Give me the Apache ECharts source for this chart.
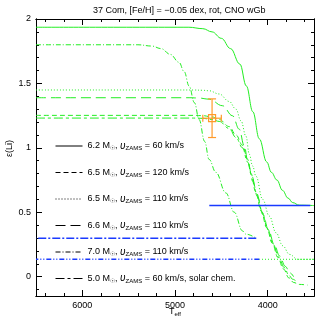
<!DOCTYPE html>
<html><head><meta charset="utf-8">
<script src="https://cdn.jsdelivr.net/npm/echarts@6/dist/echarts.min.js"></script>
<style>html,body{margin:0;padding:0;background:#fff}#c{width:332px;height:332px}</style>
</head><body><div id="c"></div>
<script>
const titleText = '37 Com, [Fe/H] = \u22120.05 dex, rot, CNO wGb';
const xMajorTicks = [4000, 5000, 6000];
const xMinorTicks = [3600, 3800, 4000, 4200, 4400, 4600, 4800, 5000, 5200, 5400, 5600, 5800, 6000, 6200, 6400];
const yMajorTicks = [0, 0.5, 1, 1.5, 2];
const yMinorTicks = [-0.1, 0, 0.1, 0.2, 0.3, 0.4, 0.5, 0.6, 0.7, 0.8, 0.9, 1, 1.1, 1.2, 1.3, 1.4, 1.5, 1.6, 1.7, 1.8, 1.9, 2];

// model legend info
const modelMass = ['6.2', '6.5', '6.5', '6.6', '7.0', '5.0'];
const modelVzams = [60, 120, 110, 110, 110, 60];
const modelNote = ['', '', '', '', '', ', solar chem.'];

// tracks (Teff, eps(Li))
const teff62 = [6500, 4850, 4700, 4600, 4500, 4400, 4300, 4230, 4160, 4090, 4010, 3960, 3900, 3840, 3780, 3730, 3660, 3500];
const li62   = [1.936, 1.936, 1.925, 1.90, 1.85, 1.77, 1.65, 1.48, 1.28, 1.07, 0.89, 0.81, 0.75, 0.67, 0.61, 0.575, 0.555, 0.552];

const teff65a = [6500, 4800, 4704, 4600, 4523, 4415, 4342, 4271, 4217, 4180, 4130, 4070, 4010, 3950, 3890, 3830, 3770, 3720, 3660, 3570];
const li65a   = [1.252, 1.252, 1.25, 1.24, 1.22, 1.165, 1.10, 1.02, 0.912, 0.80, 0.66, 0.51, 0.38, 0.26, 0.15, 0.06, -0.01, -0.045, -0.06, -0.065];

const teff65b = [6500, 4800, 4704, 4632, 4523, 4415, 4342, 4288, 4234, 4198, 4163, 4126, 4054, 3982, 3909, 3837, 3765, 3675, 3500];
const li65b   = [1.449, 1.449, 1.447, 1.443, 1.418, 1.36, 1.30, 1.21, 1.09, 0.95, 0.86, 0.78, 0.60, 0.47, 0.34, 0.24, 0.173, 0.135, 0.135];

const teff66 = [6500, 4848, 4750, 4632, 4488, 4379, 4307, 4253, 4210, 4160, 4110, 4050, 3990, 3930, 3870, 3810, 3760, 3720];
const li66   = [1.389, 1.389, 1.387, 1.378, 1.327, 1.249, 1.145, 1.016, 0.88, 0.74, 0.62, 0.48, 0.36, 0.25, 0.16, 0.08, 0.03, 0.0];

const teff70 = [6500, 5400, 5250, 5150, 5050, 4957, 4900, 4848, 4790, 4740, 4680, 4632, 4559, 4451, 4361, 4271, 4234, 4123];
const li70   = [1.80, 1.80, 1.79, 1.77, 1.725, 1.664, 1.59, 1.48, 1.35, 1.22, 1.05, 0.91, 0.81, 0.65, 0.50, 0.355, 0.33, 0.298];

const teff50 = [6500, 4800, 4704, 4600, 4523, 4415, 4342, 4271, 4217, 4170, 4120, 4060, 4000, 3940, 3880, 3820, 3770, 3730, 3700];
const li50   = [1.231, 1.231, 1.229, 1.22, 1.205, 1.15, 1.08, 1.0, 0.89, 0.78, 0.65, 0.50, 0.37, 0.25, 0.15, 0.07, 0.01, -0.02, -0.03];

// return segments at constant Li (green part, then blue loop)
const greenReturnLi = [0.135];
const greenReturnFrom = [3500];
const greenReturnTo = [4090];
const blueLi = [0.552, 0.298, 0.135];
const blueTeffFrom = [3540, 4123, 4090];
const blueTeffTo = [4630, 6500, 6500];

// observation
const obsTeff = [4600];
const obsLi = [1.23];
const obsTeffErr = [100];
const obsLiErr = [0.15];

const F = '"Liberation Sans", Arial, sans-serif';
const GREEN = '#22ee22';
const BLUE = '#1a3aff';
const ORANGE = '#ff9a2a';

const trackTeff = [teff62, teff65a, teff65b, teff66, teff70, teff50];
const trackLi = [li62, li65a, li65b, li66, li70, li50];
const trackDash = ['solid', [5, 3], [1, 2], [10, 5], [5, 2, 1, 2], [9, 3, 3, 3]];
const blueDash = ['solid', [8, 2, 2, 2], [5, 2, 1, 2, 1, 2]];

const names = modelMass.map((m, i) => m + '|' + modelVzams[i] + '|' + i);

function xAx(pos, vals, len, labels, extra) {
  return Object.assign({
    type: 'value', min: 3500, max: 6500, inverse: true, position: pos, gridIndex: 0,
    axisLine: { show: true, onZero: false, lineStyle: { color: '#000', width: 1 } },
    axisTick: { show: true, inside: true, length: len, customValues: vals, lineStyle: { color: '#000', width: 1 } },
    axisLabel: labels ? { show: true, customValues: vals, color: '#000', fontSize: 9, fontFamily: F, margin: 5, formatter: v => String(v) } : { show: false },
    splitLine: { show: false }
  }, extra || {});
}
function yAx(pos, vals, len, labels, extra) {
  return Object.assign({
    type: 'value', min: -0.15, max: 2.0, position: pos, gridIndex: 0,
    axisLine: { show: true, onZero: false, lineStyle: { color: '#000', width: 1 } },
    axisTick: { show: true, inside: true, length: len, customValues: vals, lineStyle: { color: '#000', width: 1 } },
    axisLabel: labels ? { show: true, customValues: vals, color: '#000', fontSize: 9, fontFamily: F, margin: 5, formatter: v => String(v) } : { show: false },
    splitLine: { show: false }
  }, extra || {});
}

const series = [];
trackTeff.forEach((tt, i) => {
  series.push({
    name: names[i], type: 'line', xAxisIndex: 0, yAxisIndex: 0,
    data: tt.map((t, j) => [t, trackLi[i][j]]),
    showSymbol: false, symbol: 'none', smooth: 0.4, smoothMonotone: 'x', animation: false,
    lineStyle: { color: GREEN, width: 1, type: trackDash[i] },
    itemStyle: { color: GREEN }, z: 3
  });
});
greenReturnLi.forEach((l, i) => {
  series.push({
    name: 'gret' + i, type: 'line', xAxisIndex: 0, yAxisIndex: 0,
    data: [[greenReturnFrom[i], l], [greenReturnTo[i], l]],
    showSymbol: false, symbol: 'none', animation: false,
    lineStyle: { color: GREEN, width: 1, type: [1, 2] }, itemStyle: { color: GREEN }, z: 3
  });
});
blueLi.forEach((l, i) => {
  series.push({
    name: 'blue' + i, type: 'line', xAxisIndex: 0, yAxisIndex: 0,
    data: [[blueTeffFrom[i], l], [blueTeffTo[i], l]],
    showSymbol: false, symbol: 'none', animation: false,
    lineStyle: { color: BLUE, width: 1.4, type: blueDash[i] }, itemStyle: { color: BLUE }, z: 4
  });
});
series.push({
  name: 'obs', type: 'custom', xAxisIndex: 0, yAxisIndex: 0, animation: false, z: 5,
  data: obsTeff.map((t, i) => [t, obsLi[i], obsTeffErr[i], obsLiErr[i]]),
  renderItem: function (params, api) {
    const x = api.value(0), y = api.value(1), dx = api.value(2), dy = api.value(3);
    const c = api.coord([x, y]);
    const l = api.coord([x + dx, y]);
    const r = api.coord([x - dx, y]);
    const t = api.coord([x, y + dy]);
    const b = api.coord([x, y - dy]);
    const st = { stroke: ORANGE, lineWidth: 1.2, fill: null };
    const cw = 4, ch = 3.5, s = 3.5;
    return { type: 'group', children: [
      { type: 'line', shape: { x1: l[0], y1: c[1], x2: r[0], y2: c[1] }, style: st },
      { type: 'line', shape: { x1: c[0], y1: t[1], x2: c[0], y2: b[1] }, style: st },
      { type: 'line', shape: { x1: c[0] - cw, y1: t[1], x2: c[0] + cw, y2: t[1] }, style: st },
      { type: 'line', shape: { x1: c[0] - cw, y1: b[1], x2: c[0] + cw, y2: b[1] }, style: st },
      { type: 'line', shape: { x1: l[0], y1: c[1] - ch, x2: l[0], y2: c[1] + ch }, style: st },
      { type: 'line', shape: { x1: r[0], y1: c[1] - ch, x2: r[0], y2: c[1] + ch }, style: st },
      { type: 'rect', shape: { x: c[0] - s, y: c[1] - s, width: 2 * s, height: 2 * s }, style: st }
    ] };
  }
});

const chart = echarts.init(document.getElementById('c'), null, { renderer: 'canvas' });
chart.setOption({
  animation: false,
  backgroundColor: '#fff',
  title: { text: titleText, left: 88, top: 1, textStyle: { fontSize: 9, fontWeight: 'normal', color: '#000', fontFamily: F } },
  grid: { left: 36, right: 18, top: 19, bottom: 36, containLabel: false, outerBoundsMode: 'none' },
  xAxis: [
    xAx('bottom', xMajorTicks, 6, true, {
      name: '{t|T}{s|eff}', nameLocation: 'middle', nameGap: 10, nameMoveOverlap: false,
      nameTextStyle: { color: '#000', fontFamily: F, rich: { t: { fontSize: 9, fontFamily: F, color: '#000' }, s: { fontSize: 6, fontFamily: F, color: '#000', padding: [5, 0, 0, 0] } } }
    }),
    xAx('bottom', xMinorTicks, 3, false),
    xAx('top', xMajorTicks, 6, false),
    xAx('top', xMinorTicks, 3, false)
  ],
  yAxis: [
    yAx('left', yMajorTicks, 6, true, {
      name: '\u03b5(Li)', nameLocation: 'middle', nameGap: 22, nameRotate: 90, nameMoveOverlap: false,
      nameTextStyle: { color: '#000', fontSize: 9, fontFamily: F, padding: [0, 0, 0, 18] }
    }),
    yAx('left', yMinorTicks, 3, false),
    yAx('right', yMajorTicks, 6, false),
    yAx('right', yMinorTicks, 3, false)
  ],
  legend: {
    data: names, orient: 'vertical', left: 55, top: 141, padding: 0, itemWidth: 27, itemHeight: 12, itemGap: 16,
    selectedMode: false,
    lineStyle: { color: '#000', width: 1 },
    itemStyle: { color: 'rgba(0,0,0,0)', borderWidth: 0, opacity: 0 },
    formatter: function (name) {
      const i = +name.split('|')[2];
      return '{n|' + modelMass[i] + ' M}{s|\u2609}{n|, }{v|\u03c5}{s|ZAMS}{n| = ' + modelVzams[i] + ' km/s' + modelNote[i] + '}';
    },
    textStyle: { color: '#000', fontSize: 9, fontFamily: F,
      rich: {
        n: { fontSize: 9, fontFamily: F, color: '#000' },
        s: { fontSize: 6, fontFamily: F, color: '#000', padding: [5, 0, 0, 0] },
        v: { fontSize: 10, fontFamily: F, fontStyle: 'italic', color: '#000' }
      } }
  },
  series: series
});
</script></body></html>
